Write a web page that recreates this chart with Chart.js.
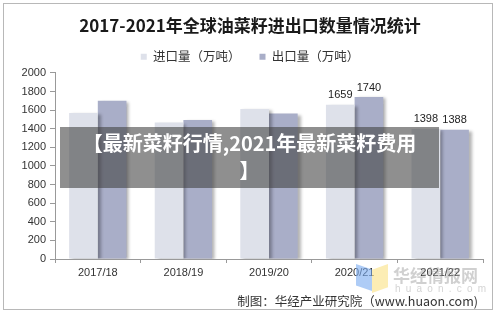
<!DOCTYPE html>
<html>
<head>
<meta charset="utf-8">
<script src="https://cdn.jsdelivr.net/npm/chart.js@4/dist/chart.umd.min.js"></script>
<style>
html,body{margin:0;padding:0;background:#fff;}
#wrap{position:relative;width:500px;height:316px;overflow:hidden;}
#frame{position:absolute;left:3px;top:3px;width:490px;height:307px;border:1px solid #b8b8b8;box-sizing:border-box;pointer-events:none;}
canvas{position:absolute;left:0;top:0;}
.abs{position:absolute;white-space:nowrap;}
#banner{left:60px;top:127px;width:379px;height:61px;background:rgba(65,65,65,0.59);color:#fff;font:bold 20px "Noto Sans CJK SC",sans-serif;line-height:27px;text-align:center;padding-top:2px;box-sizing:border-box;}
#source{right:22px;top:291px;font:12.5px "Noto Sans CJK SC",sans-serif;color:#333;}
#wm1{left:393px;top:262px;font:bold 17px "Noto Sans CJK SC",sans-serif;color:rgba(150,150,150,0.45);}
#wm2{left:395px;top:283px;font:10px "Liberation Sans",sans-serif;color:rgba(170,170,170,0.5);letter-spacing:5.2px;}
#logoB{left:356px;top:264px;width:16px;height:27px;background:rgba(120,170,240,0.6);clip-path:polygon(0 0,100% 20%,100% 100%,0 80%);}
#logoY{left:372px;top:264px;width:16px;height:29px;background:rgba(250,225,130,0.6);clip-path:polygon(0 20%,100% 0,100% 80%,0 100%);}
</style>
</head>
<body>
<div id="wrap">
<canvas id="c" width="500" height="316"></canvas>
<div id="frame"></div>
<div class="abs" id="logoB"></div>
<div class="abs" id="logoY"></div>
<div class="abs" id="wm1">华经情报网</div>
<div class="abs" id="wm2">huaon.com</div>
<div class="abs" id="source">制图：华经产业研究院（www.huaon.com)</div>
<div class="abs" id="banner">【最新菜籽行情,2021年最新菜籽费用<br>】</div>
</div>
<script>
const titleText = "2017-2021年全球油菜籽进出口数量情况统计";
const categories = ["2017/18","2018/19","2019/20","2020/21","2021/22"];
const importName = "进口量（万吨）";
const exportName = "出口量（万吨）";
const importValues = [1570, 1466, 1613, 1659, 1398];
const exportValues = [1700, 1495, 1563, 1740, 1388];
const importLabels = [null, null, null, "1659", "1398"];
const exportLabels = [null, null, null, "1740", "1388"];
const yTicks = [0,200,400,600,800,1000,1200,1400,1600,1800,2000];

const shadowPlugin = {
  id:'shadow',
  beforeDatasetsDraw(chart){
    const ctx = chart.ctx; ctx.save();
    ctx.shadowColor='rgba(0,0,0,0.30)'; ctx.shadowOffsetX=3; ctx.shadowOffsetY=1; ctx.shadowBlur=3;
  },
  afterDatasetsDraw(chart){ chart.ctx.restore(); }
};
const labelPlugin = {
  id:'vlabels',
  afterDraw(chart){
    const ctx = chart.ctx;
    const all = [importLabels, exportLabels];
    ctx.save();
    ctx.font = '11px "Liberation Sans", Arial, sans-serif';
    ctx.fillStyle = '#222';
    ctx.textAlign = 'center';
    ctx.textBaseline = 'bottom';
    all.forEach((labs, di) => {
      const meta = chart.getDatasetMeta(di);
      meta.data.forEach((bar, i) => {
        if (labs[i]) ctx.fillText(labs[i], bar.x, bar.y - 4);
      });
    });
    ctx.restore();
  }
};

new Chart(document.getElementById('c'), {
  type:'bar',
  data:{
    labels: categories,
    datasets:[
      {label: importName, data: importValues, backgroundColor:'#dee1ea', borderWidth:0},
      {label: exportName, data: exportValues, backgroundColor:'#a9aec8', borderWidth:0}
    ]
  },
  options:{
    responsive:false, animation:false, devicePixelRatio:1,
    datasets:{bar:{barPercentage:1, categoryPercentage:0.67}},
    layout:{padding:{left:0,right:0,top:0,bottom:0}},
    plugins:{
      title:{display:true, text:titleText, color:'#1a1a1a',
        font:{family:'"Noto Sans CJK SC", sans-serif', size:17, weight:'bold', lineHeight:1.2},
        padding:{top:15,bottom:-4}},
      legend:{display:true, position:'top',
        labels:{boxWidth:6, boxHeight:6, padding:19, color:'#333',
          font:{family:'"Noto Sans CJK SC", sans-serif', size:12.5}}},
      tooltip:{enabled:false}
    },
    scales:{
      x:{
        grid:{display:true, drawOnChartArea:false, drawTicks:true, tickLength:4, color:'#999', offset:true},
        border:{display:true, color:'#999'},
        ticks:{color:'#333', font:{family:'"Liberation Sans", Arial, sans-serif', size:11}, padding:3, maxRotation:0},
        afterFit(s){ s.height = 57; }
      },
      y:{
        min:0, max:2000,
        afterBuildTicks(s){ s.ticks = yTicks.map(v=>({value:v})); },
        grid:{display:true, drawOnChartArea:false, drawTicks:true, tickLength:5, color:'#999'},
        border:{display:true, color:'#999'},
        ticks:{color:'#333', font:{family:'"Liberation Sans", Arial, sans-serif', size:11}, padding:4,
          callback:(v)=>String(v)},
        afterFit(s){ s.width = 55; }
      },
      y2:{
        position:'right', display:true, min:0, max:2000,
        grid:{display:false}, border:{display:false}, ticks:{display:false},
        afterFit(s){ s.width = 17; }
      }
    }
  },
  plugins:[shadowPlugin, labelPlugin]
});
</script>
</body>
</html>
